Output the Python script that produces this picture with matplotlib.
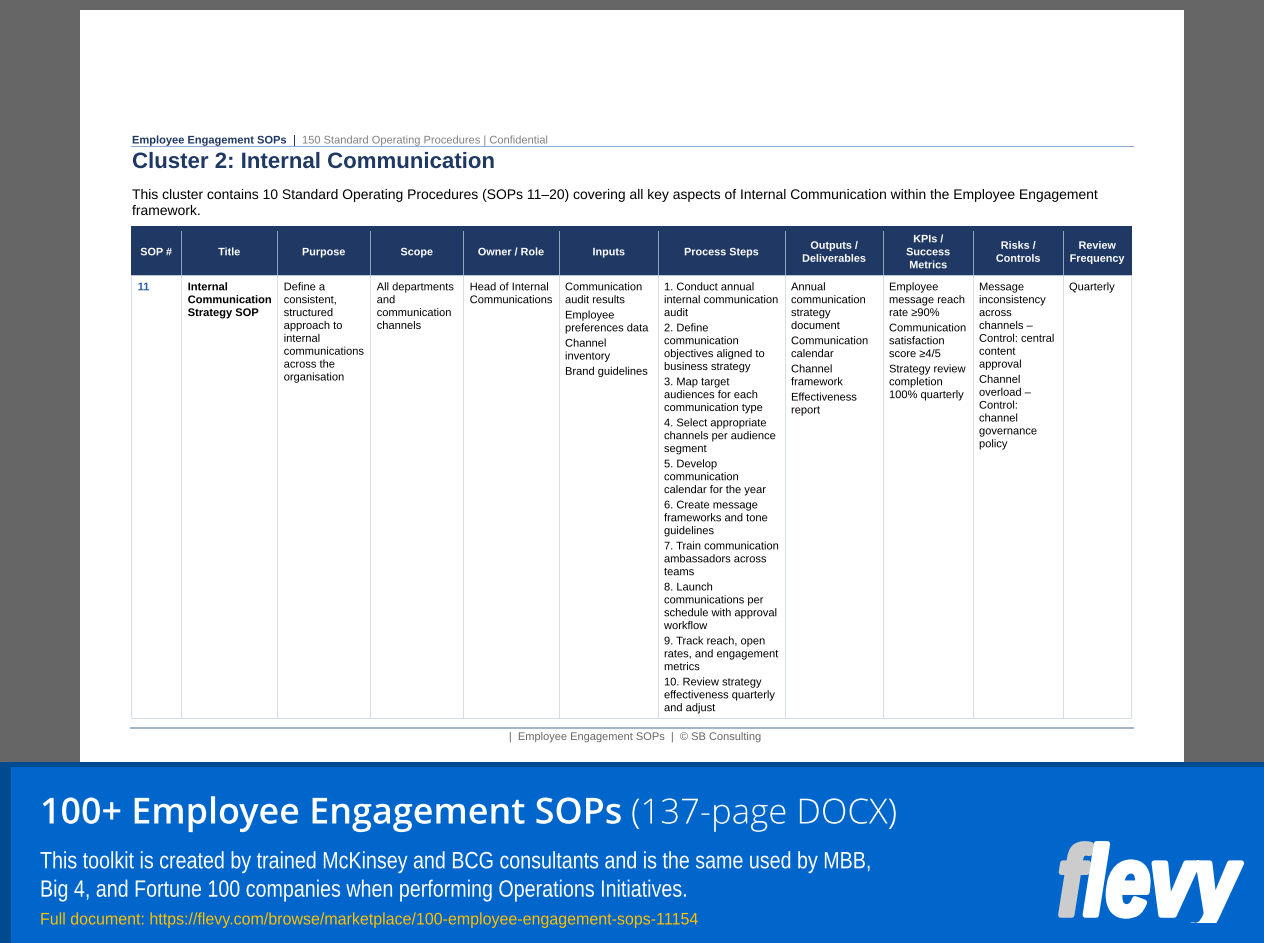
import matplotlib
matplotlib.use("Agg")
import matplotlib.pyplot as plt
from matplotlib.patches import Rectangle
import matplotlib.patheffects as pe
from matplotlib.transforms import Affine2D

plt.rcParams["text.hinting"] = "no_hinting"
plt.rcParams["text.hinting_factor"] = 1

headers = ["SOP #", "Title", "Purpose", "Scope", "Owner / Role", "Inputs", "Process Steps",
           "Outputs /\nDeliverables", "KPIs /\nSuccess\nMetrics", "Risks /\nControls", "Review\nFrequency"]
sop_number = [["11"]]
sop_title = [["Internal", "Communication", "Strategy SOP"]]
purpose = [["Define a", "consistent,", "structured", "approach to", "internal", "communications", "across the", "organisation"]]
scope = [["All departments", "and", "communication", "channels"]]
owner = [["Head of Internal", "Communications"]]
inputs = [["Communication", "audit results"], ["Employee", "preferences data"], ["Channel", "inventory"], ["Brand guidelines"]]
steps = [["1. Conduct annual", "internal communication", "audit"],
         ["2. Define", "communication", "objectives aligned to", "business strategy"],
         ["3. Map target", "audiences for each", "communication type"],
         ["4. Select appropriate", "channels per audience", "segment"],
         ["5. Develop", "communication", "calendar for the year"],
         ["6. Create message", "frameworks and tone", "guidelines"],
         ["7. Train communication", "ambassadors across", "teams"],
         ["8. Launch", "communications per", "schedule with approval", "workflow"],
         ["9. Track reach, open", "rates, and engagement", "metrics"],
         ["10. Review strategy", "effectiveness quarterly", "and adjust"]]
outputs = [["Annual", "communication", "strategy", "document"], ["Communication", "calendar"],
           ["Channel", "framework"], ["Effectiveness", "report"]]
kpis = [["Employee", "message reach", "rate ≥90%"], ["Communication", "satisfaction", "score ≥4/5"],
        ["Strategy review", "completion", "100% quarterly"]]
risks = [["Message", "inconsistency", "across", "channels –", "Control: central", "content", "approval"],
         ["Channel", "overload –", "Control:", "channel", "governance", "policy"]]
frequency = [["Quarterly"]]
columns = [sop_number, sop_title, purpose, scope, owner, inputs, steps, outputs, kpis, risks, frequency]

col_edges = [131, 181, 277, 370, 463, 559, 658, 785, 883, 973, 1063, 1131]
NAVY = "#1f3864"
SANS = ["Liberation Sans", "DejaVu Sans"]


class Tall(pe.AbstractPathEffect):
    """Draw a text as outlines, stretched vertically about its baseline, optionally thickened."""
    def __init__(self, sy=1.0, lw=0, color=None):
        super().__init__()
        self.sy, self.lw, self.color = sy, lw, color

    def draw_path(self, renderer, gc, tpath, affine, rgbFace=None):
        aff = Affine2D().scale(1, self.sy) + affine
        if self.lw:
            g = renderer.new_gc()
            g.copy_properties(gc)
            g.set_linewidth(self.lw)
            g.set_foreground(self.color)
            renderer.draw_path(g, tpath, aff, rgbFace)
            g.restore()
        else:
            renderer.draw_path(gc, tpath, aff, rgbFace)


fig = plt.figure(figsize=(12.64, 9.43), dpi=100, facecolor="#666666")
ax = fig.add_axes([0, 0, 1, 1])
ax.set_xlim(0, 1264)
ax.set_ylim(943, 0)
ax.axis("off")


def rect(x0, y0, x1, y1, color, z=1):
    ax.add_patch(Rectangle((x0, y0), x1 - x0, y1 - y0, facecolor=color, edgecolor="none", zorder=z))


def txt(x, y, s, size=8.0, color="black", **kw):
    kw.setdefault("family", SANS)
    kw.setdefault("ha", "left")
    kw.setdefault("va", "baseline")
    kw.setdefault("zorder", 5)
    kw.setdefault("path_effects", [Tall()])
    return ax.text(x, y, s, fontsize=size, color=color, **kw)


# page
rect(80, 10, 1184, 765, "white")
# running head
txt(132, 143.5, "Employee Engagement SOPs", 7.98, NAVY, fontweight="bold")
txt(293, 143.5, "|", 7.98, NAVY, fontweight="bold")
txt(302, 143.5, "150 Standard Operating Procedures | Confidential", 7.99, "#808080")
rect(131, 146, 1134, 147, "#8ea9cf", 2)
txt(132, 168, "Cluster 2: Internal Communication", 16.0, NAVY, fontweight="bold")
txt(132, 199, "This cluster contains 10 Standard Operating Procedures (SOPs 11–20) covering all key aspects of "
    "Internal Communication within the Employee Engagement", 10.01)
txt(132, 215, "framework.", 10.01)

# table
GRID = "#d5dfe9"
rect(col_edges[0], 226, col_edges[-1] + 1, 275, NAVY, 2)
rect(col_edges[0], 275, col_edges[-1] + 1, 276, "#b8c7de", 3)
rect(col_edges[0], 718, col_edges[-1] + 1, 719, GRID, 3)
for i, e in enumerate(col_edges):
    rect(e, 276, e + 1, 718, GRID, 3)
    if 0 < i < len(col_edges) - 1:
        rect(e, 231, e + 1, 275, "#8fa3c0", 3)

LINE, GAP, TOP = 12.88, 2.4, 290.3
for i, (head, col) in enumerate(zip(headers, columns)):
    x0, x1 = col_edges[i], col_edges[i + 1]
    head_lines = head.split("\n")
    for j, part in enumerate(head_lines):
        txt((x0 + x1) / 2 + 0.5, 255.3 + (j - (len(head_lines) - 1) / 2) * 13, part, 7.8, "white",
            fontweight="bold", ha="center")
    y = TOP
    for para in col:
        for line in para:
            style = {}
            color = "black"
            if i == 1:
                style["fontweight"] = "bold"
            if i == 0:
                style["fontweight"] = "bold"
                color = "#2e5fa5"
            txt(x0 + (6.7 if i < 5 else 6), y, line, 8.0, color, **style)
            y += LINE
        y += GAP

# footer
rect(130, 727, 1134, 729, "#a3b5cc", 3)
txt(634.5, 740, "|  Employee Engagement SOPs  |  © SB Consulting", 7.96, "#666666", ha="center")

# banner
rect(0, 762, 1264, 943, "#004a8f", 6)
rect(11, 767, 1264, 943, "#0066cc", 7)
txt(40, 823.5, "100+ Employee Engagement SOPs", 25.85, "white", family=["Open Sans"],
    fontweight="semibold", zorder=8)
txt(631, 823.5, "(137-page DOCX)", 25.0, "white", family=["Open Sans"], fontweight="light", zorder=8)
txt(40, 868.3, "This toolkit is created by trained McKinsey and BCG consultants and is the same used by MBB,",
    14.17, "white", zorder=8, path_effects=[Tall(1.2)])
txt(40, 896.7, "Big 4, and Fortune 100 companies when performing Operations Initiatives.",
    14.17, "white", zorder=8, path_effects=[Tall(1.2)])
txt(40, 924.5, "Full document: https://flevy.com/browse/marketplace/100-employee-engagement-sops-11154",
    11.52, "#ffc000", zorder=8, path_effects=[Tall(1.05)])

# logo (the tail of the y is short in the original, so the stretched text is clipped)
logo_clip = Rectangle((1040, 830), 224, 93, transform=ax.transData)
txt(1058, 915, "f", 57, "#cccccc", fontweight="bold", style="italic", zorder=8,
    path_effects=[Tall(1.24, 4, "#cccccc")])
t2 = txt(1084, 915, "levy", 57, "white", fontweight="bold", style="italic", zorder=8,
         path_effects=[Tall(1.24, 4, "white")])
t2.set_clip_path(logo_clip)
t2.set_clip_on(True)

fig.savefig("out.png", dpi=100, facecolor=fig.get_facecolor())
